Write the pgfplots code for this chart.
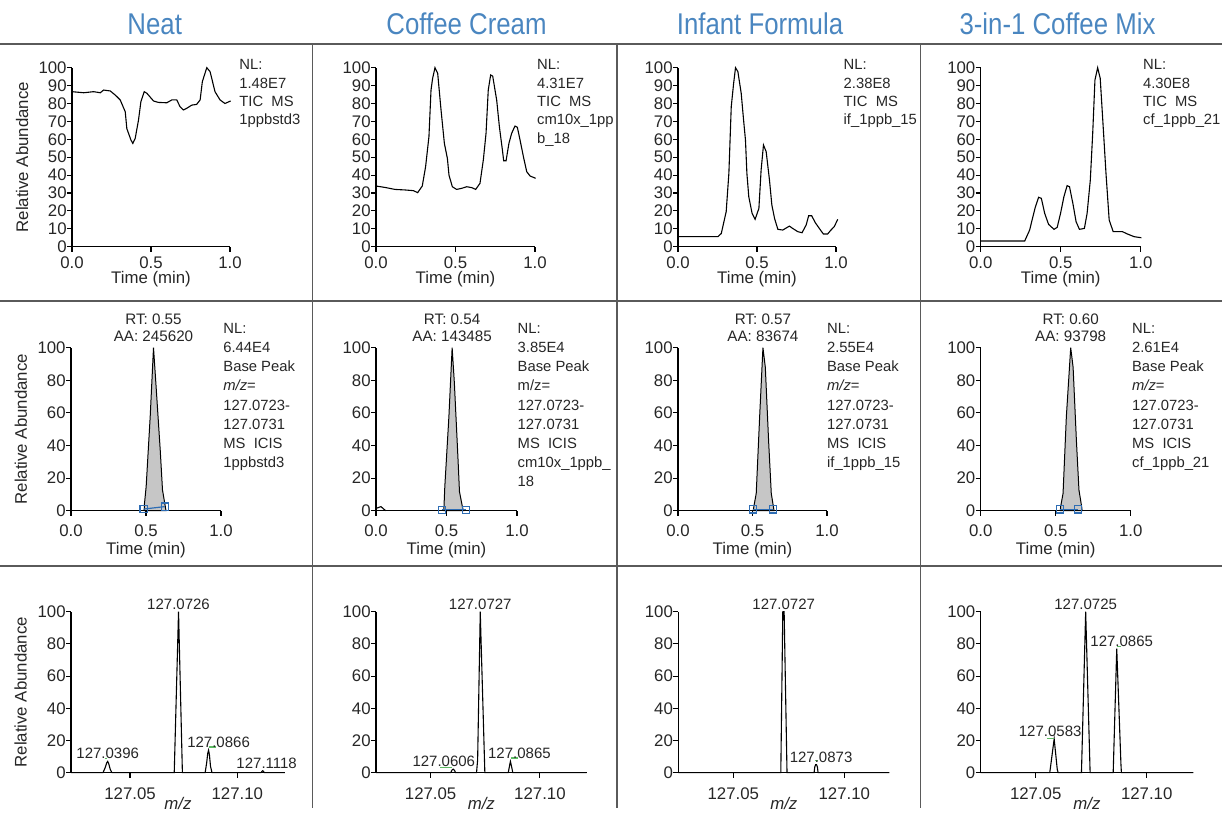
\documentclass[border=0pt]{standalone}
\usepackage{fontspec}
\setmainfont{Liberation Sans}
\newfontfamily\titlefont[FakeStretch=0.86]{Liberation Sans}
\usepackage{pgfplots}
\pgfplotsset{compat=1.18}

\definecolor{titleblue}{HTML}{4A86C0}
\definecolor{rulegray}{HTML}{5A5A5A}
\definecolor{peakfill}{HTML}{C6C6C6}
\definecolor{markblue}{HTML}{2E6DB4}
\definecolor{flaggreen}{HTML}{5DBB63}
\definecolor{ink}{HTML}{262626}

\pgfplotsset{
  panel/.style={
    scale only axis, anchor=south west,
    axis lines*=left,
    axis line style={black, line width=0.55pt},
    every tick/.style={black, line width=0.55pt},
    tick align=outside, major tick length=2.5pt,
    enlargelimits=false, clip=false,
    ymin=0, ymax=100,
    /pgf/number format/assume math mode=true,
    tick label style={font=\fontsize{8.4}{9}\selectfont, text=ink},
    yticklabel style={anchor=east, inner sep=0pt, xshift=0pt},
    label style={font=\fontsize{8.4}{10}\selectfont, text=ink},
    ylabel style={anchor=center},
  },
  trace/.style={black, line width=0.55pt, mark=none},
  tic/.style={panel, height=89.5pt, ytick={0,10,...,100},
    xmin=0, xmax=1, xtick={0,0.5,1}, xticklabels={0.0,0.5,1.0},
    xticklabel style={anchor=center, inner sep=0pt, yshift=-5.35pt},
    xlabel={Time (min)},
    xlabel style={at={(axis description cs:0.5,0)}, anchor=center, yshift=-16pt}},
  xic/.style={panel, height=81.5pt, ytick={0,20,...,100},
    xmin=0, xmax=1, xtick={0,0.5,1}, xticklabels={0.0,0.5,1.0},
    xticklabel style={anchor=center, inner sep=0pt, yshift=-7.35pt},
    xlabel={Time (min)},
    xlabel style={at={(axis description cs:0.5,0)}, anchor=center, yshift=-19.5pt}},
  % spectra: x is (m/z - 127) x 1000, so 72.6 stands for m/z 127.0726
  spec/.style={panel, height=80.5pt, ytick={0,20,...,100},
    xtick={50,100}, xticklabels={127.05,127.10},
    xticklabel style={anchor=center, inner sep=0pt, yshift=-8pt},
    xlabel={\textit{m/z}},
    xlabel style={at={(axis description cs:0.5,0)}, anchor=center, yshift=-15.5pt}},
  xicpeak/.style={draw=black, line width=0.5pt, fill=peakfill},
  bounds/.style={markblue, line width=0.6pt, mark=square, mark size=1.8pt},
}
\tikzset{
  nl/.style={anchor=north west, inner sep=0pt, align=left, text=ink},
  rt/.style={anchor=south, inner sep=0pt, align=center, yshift=3pt, text=ink,
    font=\fontsize{7.6}{8.5}\selectfont},
  pk/.style={anchor=south, inner sep=1pt, text=ink, font=\fontsize{7.5}{8}\selectfont},
  flag/.style={flaggreen, line width=0.6pt},
}

\begin{document}
\begin{tikzpicture}
\useasboundingbox (0pt,0pt) rectangle (611pt,-408.5pt);

% ---- column titles ----
\foreach \cx/\name in {77.35pt/Neat, 233.25pt/Coffee Cream, 380pt/Infant Formula, 528.75pt/3-in-1 Coffee Mix}
  \node[anchor=base, text=titleblue, inner sep=0pt, font=\titlefont\fontsize{15}{17}\selectfont] at (\cx,-17.15pt) {\name};

% ---- frame rules ----
\begin{scope}[rulegray, line width=0.9pt]
  \draw (0pt,-22pt) -- (611pt,-22pt);
  \draw (0pt,-150.5pt) -- (611pt,-150.5pt);
  \draw (0pt,-283pt) -- (611pt,-283pt);
  \draw (156.25pt,-22pt) -- (156.25pt,-404pt);
  \draw (308.5pt,-22pt) -- (308.5pt,-404pt);
  \draw (460.25pt,-22pt) -- (460.25pt,-404pt);
\end{scope}

% ================= row 1: TIC =================
\begin{axis}[tic, at={(36pt,-123.35pt)}, width=79pt, ylabel={Relative Abundance},
  ylabel style={at={(axis description cs:-0.316,0.5)}}]
\addplot[trace] coordinates {
(0,86.6) (0.074,86) (0.137,86.6) (0.179,86) (0.2,87.5) (0.242,87) (0.274,84.7)
(0.305,82) (0.337,75.4) (0.347,66) (0.373,59.6) (0.385,57.7) (0.4,60.5) (0.421,70.8)
(0.436,81) (0.457,86.6) (0.474,85.7) (0.516,81.4) (0.547,80.6) (0.6,80.4) (0.632,82)
(0.663,82) (0.684,78.2) (0.705,76.4) (0.726,77.3) (0.758,79.1) (0.789,79.5) (0.811,82)
(0.825,92.2) (0.853,100) (0.874,97.8) (0.905,86.6) (0.937,82) (0.968,80) (1.004,81.4)};
\end{axis}
\node[nl, font=\fontsize{7.4}{9.15}\selectfont] at (119.5pt,-29.7pt) {NL:\\1.48E7\\TIC\ \ MS\\1ppbstd3};

\begin{axis}[tic, at={(188pt,-123.35pt)}, width=79.5pt]
\addplot[trace] coordinates {
(0,33.9) (0.057,33.1) (0.119,32) (0.182,31.7) (0.235,31.3) (0.262,30.2) (0.291,33.9)
(0.312,44.7) (0.333,61.5) (0.346,87.5) (0.356,94) (0.371,100) (0.388,96.8) (0.409,76.4)
(0.43,57.7) (0.449,49.3) (0.459,40) (0.48,33.5) (0.507,32) (0.539,32.6) (0.57,33.5)
(0.602,33) (0.627,32) (0.654,35.4) (0.675,48.4) (0.692,63.3) (0.706,87.5) (0.721,95.9)
(0.734,95.3) (0.759,81.9) (0.776,67) (0.795,54) (0.803,48) (0.818,48) (0.836,57.7)
(0.853,63.3) (0.874,67.4) (0.889,66.7) (0.906,59.6) (0.927,50.3) (0.948,41.9)
(0.969,39.5) (1.004,38.2)};
\end{axis}
\node[nl, font=\fontsize{7.4}{9.15}\selectfont] at (268.35pt,-29.7pt) {NL:\\4.31E7\\TIC\ \ MS\\cm10x\_1pp\\b\_18};

\begin{axis}[tic, at={(339pt,-123.35pt)}, width=79pt]
\addplot[trace] coordinates {
(0,5.6) (0.253,5.6) (0.274,7.4) (0.305,19.6) (0.322,41) (0.337,78.2) (0.352,91.2)
(0.364,100) (0.379,97.8) (0.4,85.7) (0.415,70.8) (0.427,59.6) (0.436,41) (0.448,27.9)
(0.469,18.6) (0.488,15.3) (0.512,21.4) (0.526,42.8) (0.541,56.8) (0.558,53.1)
(0.579,37.2) (0.594,23.3) (0.611,15.8) (0.632,9.7) (0.663,9.3) (0.705,11.5) (0.726,10.2)
(0.758,8.4) (0.785,7.8) (0.811,12.1) (0.827,17.3) (0.846,17.3) (0.869,13.4) (0.905,8.9)
(0.92,7.1) (0.947,7.1) (0.968,9.3) (0.989,11.2) (1.011,15.3)};
\end{axis}
\node[nl, font=\fontsize{7.4}{9.15}\selectfont] at (421.65pt,-29.7pt) {NL:\\2.38E8\\TIC\ \ MS\\if\_1ppb\_15};

\begin{axis}[tic, at={(490.35pt,-123.35pt)}, width=80pt]
\addplot[trace] coordinates {
(0,3.2) (0.275,3.2) (0.306,9.3) (0.321,14.9) (0.342,22.3) (0.362,27.6) (0.379,27)
(0.4,18.6) (0.424,12.5) (0.458,9.7) (0.478,10.8) (0.499,18.6) (0.52,27.9) (0.54,34.1)
(0.555,33.5) (0.576,24.2) (0.596,14) (0.617,9.7) (0.648,10.2) (0.665,18.6) (0.685,37.2)
(0.7,63.3) (0.714,93.1) (0.731,100) (0.747,94) (0.768,63.3) (0.783,41) (0.803,14.9)
(0.828,8.4) (0.886,8.4) (0.917,7.1) (0.959,5.6) (1.004,5)};
\end{axis}
\node[nl, font=\fontsize{7.4}{9.15}\selectfont] at (571.35pt,-29.7pt) {NL:\\4.30E8\\TIC\ \ MS\\cf\_1ppb\_21};

% ================= row 2: extracted base peak =================
\begin{axis}[xic, at={(35.5pt,-255.35pt)}, width=75pt, ylabel={Relative Abundance},
  ylabel style={at={(axis description cs:-0.335,0.5)}}]
\addplot[xicpeak] coordinates {
(0.488,0) (0.49,4.5) (0.501,14.7) (0.528,57.7) (0.55,100) (0.566,78) (0.595,37)
(0.61,12.7) (0.628,2.9) (0.633,0)} \closedcycle;
\addplot[bounds] coordinates {(0.484,1) (0.625,2.5)};
\node[rt] at (axis cs:0.55,100) {RT: 0.55\\AA: 245620};
\end{axis}
\node[nl, font=\fontsize{7.4}{9.6}\selectfont] at (111.5pt,-161.35pt)
  {NL:\\6.44E4\\Base Peak\\\textit{m/z}=\\127.0723-\\127.0731\\MS\ \ ICIS\\1ppbstd3};

\begin{axis}[xic, at={(188pt,-255.35pt)}, width=70.5pt]
\addplot[trace] coordinates {(0,1.4) (0.035,2.5) (0.063,0.4) (0.07,0)};
\addplot[xicpeak] coordinates {
(0.481,0) (0.488,14.7) (0.517,57.7) (0.54,100) (0.556,78) (0.582,31) (0.592,11.7)
(0.615,1.4) (0.622,0)} \closedcycle;
\addplot[bounds] coordinates {(0.466,0.5) (0.637,0.5)};
\node[rt] at (axis cs:0.54,100) {RT: 0.54\\AA: 143485};
\end{axis}
\node[nl, font=\fontsize{7.4}{9.6}\selectfont] at (258.65pt,-161.35pt)
  {NL:\\3.85E4\\Base Peak\\m/z=\\127.0723-\\127.0731\\MS\ \ ICIS\\cm10x\_1ppb\_\\18};

\begin{axis}[xic, at={(339pt,-255.35pt)}, width=74.5pt]
\addplot[xicpeak] coordinates {
(0.505,0) (0.509,2.5) (0.525,10.6) (0.548,57.7) (0.57,100) (0.586,88) (0.608,43)
(0.626,10.6) (0.642,1.4) (0.645,0)} \closedcycle;
\addplot[bounds] coordinates {(0.503,0.8) (0.638,0.8)};
\node[rt] at (axis cs:0.57,100) {RT: 0.57\\AA: 83674};
\end{axis}
\node[nl, font=\fontsize{7.4}{9.6}\selectfont] at (413.35pt,-161.35pt)
  {NL:\\2.55E4\\Base Peak\\\textit{m/z}=\\127.0723-\\127.0731\\MS\ \ ICIS\\if\_1ppb\_15};

\begin{axis}[xic, at={(490.35pt,-255.35pt)}, width=75pt]
\addplot[xicpeak] coordinates {
(0.531,0) (0.533,2.5) (0.549,10.6) (0.571,57.7) (0.6,100) (0.616,88) (0.638,43)
(0.655,12.7) (0.673,2.5) (0.676,0)} \closedcycle;
\addplot[bounds] coordinates {(0.528,0.8) (0.65,0.8)};
\node[rt] at (axis cs:0.60,100) {RT: 0.60\\AA: 93798};
\end{axis}
\node[nl, font=\fontsize{7.4}{9.6}\selectfont] at (565.85pt,-161.35pt)
  {NL:\\2.61E4\\Base Peak\\\textit{m/z}=\\127.0723-\\127.0731\\MS\ \ ICIS\\cf\_1ppb\_21};

% ================= row 3: mass spectra, x = (m/z - 127) x 1000 =================
\begin{axis}[spec, at={(35.5pt,-386.35pt)}, width=107pt, xmin=22.5, xmax=122.2,
  ylabel={Relative Abundance}, ylabel style={at={(axis description cs:-0.235,0.5)}}]
\addplot[trace] coordinates {
(22.5,0) (37.4,0) (38.4,3) (39.1,6) (39.6,7) (40.1,5.5) (40.8,2) (41.6,0)
(70.6,0) (72.6,100) (74.4,0) (85.0,0) (85.7,6) (86.2,12) (86.6,14) (87.0,11)
(87.5,4) (88.2,0) (111.0,0) (111.6,1) (111.8,1.2) (112.1,1) (112.6,0) (122.2,0)};
\draw[flag] (axis cs:38.2,9) -- (axis cs:39.4,9);
\draw[flag] (axis cs:86.6,16) -- (axis cs:90.1,16);
\node[pk] at (axis cs:72.6,100) {127.0726};
\node[pk] at (axis cs:39.6,7) {127.0396};
\node[pk, xshift=5pt] at (axis cs:86.6,14) {127.0866};
\node[pk, xshift=2pt] at (axis cs:111.8,1.2) {127.1118};
\end{axis}

\begin{axis}[spec, at={(188pt,-386.35pt)}, width=105.35pt, xmin=25, xmax=121.4]
\addplot[trace] coordinates {
(25,0) (59.2,0) (59.7,1.5) (60.3,2.2) (60.9,1.5) (61.4,0) (71.0,0) (71.5,8)
(72.7,100) (72.9,90) (74.8,0) (85.5,0) (86.2,5) (86.5,7) (87.0,4) (87.6,0) (121.4,0)};
\draw[flag] (axis cs:54.3,3.1) -- (axis cs:59.8,3.1);
\draw[flag] (axis cs:86.8,9.1) -- (axis cs:90,9.1);
\node[pk] at (axis cs:72.7,100) {127.0727};
\node[pk, xshift=-5pt] at (axis cs:60.6,2.2) {127.0606};
\node[pk, xshift=4.5pt] at (axis cs:86.5,7) {127.0865};
\end{axis}

\begin{axis}[spec, at={(339.15pt,-386.35pt)}, width=105.5pt, xmin=25.2, xmax=120.3]
\addplot[trace] coordinates {
(25.2,0) (71.4,0) (72.3,100) (72.9,100) (74.2,0) (86.4,0) (86.7,3.5) (87.1,5)
(87.5,5) (87.9,3.5) (88.2,0) (120.3,0)};
\draw[flag] (axis cs:86.8,7.5) -- (axis cs:88.2,7.5);
\node[pk] at (axis cs:72.7,100) {127.0727};
\node[pk, xshift=2.5pt] at (axis cs:87.3,5) {127.0873};
\end{axis}

\begin{axis}[spec, at={(490.35pt,-386.35pt)}, width=106.3pt, xmin=25.2, xmax=121.0]
\addplot[trace] coordinates {
(25.2,0) (56.3,0) (56.7,4) (58.3,21) (59.7,2) (60.1,0) (70.6,0) (72.5,100)
(74.5,0) (84.9,0) (86.5,77) (88.4,5) (88.6,0) (121.0,0)};
\draw[flag] (axis cs:86.5,78.3) -- (axis cs:88.4,78.3);
\draw[flag] (axis cs:55.1,21.4) -- (axis cs:58.2,21.4);
\node[pk] at (axis cs:72.5,100) {127.0725};
\node[pk, xshift=2.5pt] at (axis cs:86.5,77) {127.0865};
\node[pk, xshift=-2pt] at (axis cs:58.3,21) {127.0583};
\end{axis}

\end{tikzpicture}
\end{document}
